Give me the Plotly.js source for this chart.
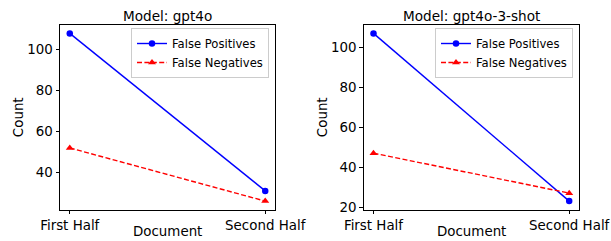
<!DOCTYPE html>
<html>
<head>
<meta charset="utf-8">
<script src="https://cdn.plot.ly/plotly-3.0.1.min.js"></script>
<style>html,body{margin:0;padding:0;background:#fff}#chart{width:611px;height:241px}</style>
</head>
<body>
<div id="chart"></div>
<script>
const categories = ["First Half", "Second Half"];
const gpt4oFP = [108, 31];
const gpt4oFN = [52, 26];
const gpt4o3FP = [107, 23];
const gpt4o3FN = [47, 27];
const titles = ["Model: gpt4o", "Model: gpt4o-3-shot"];
const xTitle = "Document";
const yTitle = "Count";

const W = 611, H = 241;
const FONT = "DejaVu Sans, sans-serif";
const fpStyle = {mode: "lines+markers", line: {color: "#0000ff", width: 1.4}, marker: {symbol: "circle", size: 6.5, color: "#0000ff"}};
const fnStyle = {mode: "lines+markers", line: {color: "#ff0000", width: 1.4, dash: "5px,2.4px"}, marker: {symbol: "triangle-up", size: 7, color: "#ff0000"}};

const traces = [
  Object.assign({x: categories, y: gpt4oFP, name: "False Positives", xaxis: "x", yaxis: "y", legend: "legend"}, fpStyle),
  Object.assign({x: categories, y: gpt4oFN, name: "False Negatives", xaxis: "x", yaxis: "y", legend: "legend"}, fnStyle),
  Object.assign({x: categories, y: gpt4o3FP, name: "False Positives", xaxis: "x2", yaxis: "y2", legend: "legend2"}, fpStyle),
  Object.assign({x: categories, y: gpt4o3FN, name: "False Negatives", xaxis: "x2", yaxis: "y2", legend: "legend2"}, fnStyle)
];

function pad(arr1, arr2) {
  const all = arr1.concat(arr2);
  const mn = Math.min(...all), mx = Math.max(...all);
  const m = (mx - mn) * 0.05;
  return [mn - m, mx + m];
}

const yTop = 1 - 25 / H, yBot = 1 - 209.5 / H;
const axBase = {showline: true, linecolor: "#000", linewidth: 1, mirror: true, ticks: "outside", ticklen: 3.5, tickcolor: "#000", showgrid: false, zeroline: false, tickfont: {family: FONT, size: 13.4, color: "#000"}};
const xax = (dom, anchor) => Object.assign({}, axBase, {domain: dom, anchor: anchor, type: "category", range: [-0.05, 1.05]});
const yax = (anchor, rng, dtick) => Object.assign({}, axBase, {domain: [yBot, yTop], anchor: anchor, range: rng, dtick: dtick, title: {text: yTitle, font: {family: FONT, size: 13.4, color: "#000"}, standoff: 0}});

const legBase = {font: {family: FONT, size: 11.6, color: "#000"}, bordercolor: "#cccccc", borderwidth: 1, bgcolor: "rgba(255,255,255,0.8)", xanchor: "right", yanchor: "top", itemwidth: 30, tracegroupgap: 0};

const ann = (text, xc, yc, size) => ({text: text, xref: "paper", yref: "paper", x: xc / W, y: 1 - yc / H, xanchor: "center", yanchor: "middle", showarrow: false, font: {family: FONT, size: size, color: "#000"}});

const layout = {
  width: W, height: H,
  margin: {l: 0, r: 0, t: 0, b: 0},
  paper_bgcolor: "#fff", plot_bgcolor: "#fff",
  showlegend: true,
  xaxis: xax([60 / W, 275 / W], "y"),
  yaxis: yax("x", pad(gpt4oFP, gpt4oFN), 20),
  xaxis2: xax([363.7 / W, 579 / W], "y2"),
  yaxis2: yax("x2", pad(gpt4o3FP, gpt4o3FN), 20),
  legend: Object.assign({}, legBase, {x: 269 / W, y: 1 - 28 / H}),
  legend2: Object.assign({}, legBase, {x: 573 / W, y: 1 - 28 / H}),
  annotations: [
    ann(titles[0], (60 + 275) / 2, 16, 13.6),
    ann(titles[1], (363.7 + 579) / 2, 16, 13.6),
    ann(xTitle, (60 + 275) / 2, 231.5, 13.4),
    ann(xTitle, (363.7 + 579) / 2, 231.5, 13.4)
  ]
};

Plotly.newPlot("chart", traces, layout, {staticPlot: true, displayModeBar: false});
</script>
</body>
</html>
